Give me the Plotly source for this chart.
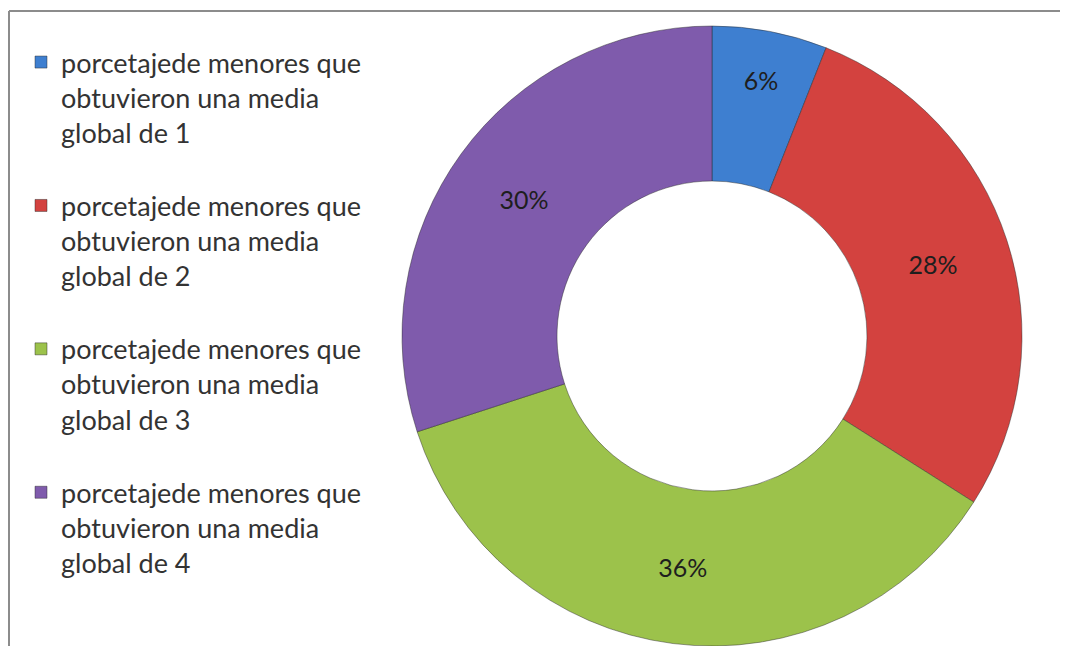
import plotly.graph_objects as go

labels = [
    "porcetajede menores que<br>obtuvieron una media<br>global de 1<br> ",
    "porcetajede menores que<br>obtuvieron una media<br>global de 2<br> ",
    "porcetajede menores que<br>obtuvieron una media<br>global de 3<br> ",
    "porcetajede menores que<br>obtuvieron una media<br>global de 4<br> ",
]
values = [6, 28, 36, 30]
colors = ["#3e7fd0", "#d3423f", "#9cc24b", "#7f5bac"]

W, H = 1068, 646
OFF = 8  # page body margin

fig = go.Figure(go.Pie(
    labels=labels,
    values=values,
    hole=0.5,
    sort=False,
    direction="clockwise",
    rotation=0,
    marker=dict(colors=colors, line=dict(color="rgba(40,40,40,0.45)", width=1)),
    textinfo="percent",
    texttemplate="%{percent:.0%}",
    textposition="inside",
    insidetextorientation="horizontal",
    textfont=dict(family="Lato", size=25, color="#1e1e1e"),
    domain=dict(x=[(402 - OFF) / W, (1022 - OFF) / W],
                y=[1 - (646 - OFF) / H, 1 - (26 - OFF) / H]),
))

fig.update_layout(
    width=W, height=H,
    margin=dict(l=0, r=0, t=0, b=0),
    paper_bgcolor="white",
    plot_bgcolor="white",
    showlegend=True,
    legend=dict(
        x=13 / W, y=1 - 30 / H, xanchor="left", yanchor="top",
        font=dict(family="Lato", size=27, color="#333333"),
        valign="top",
        bgcolor="rgba(0,0,0,0)",
    ),
    shapes=[
        dict(type="line", xref="paper", yref="paper",
             x0=(9 - OFF) / W, x1=(9 - OFF) / W, y0=-0.05, y1=1 - (11 - OFF) / H,
             line=dict(color="#8c8c8c", width=2)),
        dict(type="line", xref="paper", yref="paper",
             x0=(9 - OFF) / W, x1=1.05, y0=1 - (11 - OFF) / H, y1=1 - (11 - OFF) / H,
             line=dict(color="#8c8c8c", width=2)),
    ],
)

fig.write_html("out.html")
